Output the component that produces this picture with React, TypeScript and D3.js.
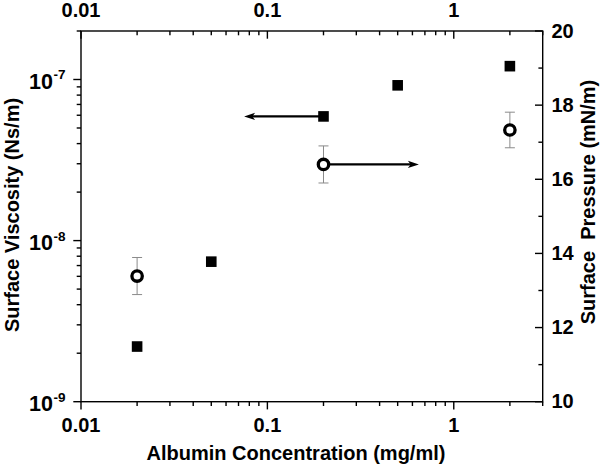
import React from "react";
import * as d3 from "d3";

// ---- data ----
const concSquares = [0.02, 0.05, 0.2, 0.5, 2];
const viscosity = [2.2e-9, 7.4e-9, 5.9e-8, 9.2e-8, 1.21e-7];
const concCircles = [0.02, 0.2, 2];
const pressure = [13.39, 16.4, 17.33];
const pressureErr = [0.5, 0.5, 0.48];
const xTickValues = [0.01, 0.1, 1];
const xTickLabels = ["0.01", "0.1", "1"];
const leftExponents = [-9, -8, -7];
const rightTickValues = [10, 12, 14, 16, 18, 20];
const arrowStartX = [0.2, 0.2];
const arrowEndX = [0.075, 0.65];
const arrowSide = ["left", "right"];

const W = 602;
const H = 467;
const M = { left: 81, right: 542.7, top: 31, bottom: 401.7 };
const FONT = "'Liberation Sans', Arial, Helvetica, sans-serif";

export default function App() {
  const x = d3.scaleLog().domain([0.01, 3]).range([M.left, M.right]);
  const yL = d3.scaleLog().domain([1e-9, 2e-7]).range([M.bottom, M.top]);
  const yR = d3.scaleLinear().domain([10, 20]).range([M.bottom, M.top]);

  const xMinor: number[] = [];
  [0.01, 0.1, 1].forEach((d) => {
    for (let k = 2; k <= 9; k++) {
      const v = d * k;
      if (v <= 3 + 1e-9) xMinor.push(v);
    }
  });
  const yMinor: number[] = [];
  [1e-9, 1e-8, 1e-7].forEach((d) => {
    for (let k = 2; k <= 9; k++) {
      const v = d * k;
      if (v <= 2e-7 + 1e-15) yMinor.push(v);
    }
  });
  const rMinor = [11, 13, 15, 17, 19];

  const arrowY = (i: number) =>
    arrowSide[i] === "left" ? yL(viscosity[concSquares.indexOf(arrowStartX[i])]) : yR(pressure[concCircles.indexOf(arrowStartX[i])]);

  const sw = 1.4;
  const majL = 7.7;
  const minL = 4.3;
  const sq = 10.6;

  return (
    <svg width={W} height={H} style={{ position: "absolute", left: 0, top: 0, background: "#fff" }} fontFamily={FONT}>
      <rect x={0} y={0} width={W} height={H} fill="#fff" />
      {/* frame */}
      <rect x={M.left} y={M.top} width={M.right - M.left} height={M.bottom - M.top} fill="none" stroke="#000" strokeWidth={sw} />

      {/* bottom / top x ticks */}
      {xTickValues.map((v) => (
        <g key={"xm" + v}>
          <line x1={x(v)} x2={x(v)} y1={M.bottom} y2={M.bottom + majL} stroke="#000" strokeWidth={sw} />
          <line x1={x(v)} x2={x(v)} y1={M.top} y2={M.top + majL} stroke="#000" strokeWidth={sw} />
        </g>
      ))}
      {xMinor.map((v) => (
        <g key={"xn" + v}>
          <line x1={x(v)} x2={x(v)} y1={M.bottom} y2={M.bottom + minL} stroke="#000" strokeWidth={sw} />
          <line x1={x(v)} x2={x(v)} y1={M.top} y2={M.top + minL} stroke="#000" strokeWidth={sw} />
        </g>
      ))}
      {xTickValues.map((v, i) => (
        <g key={"xl" + v} fontSize={20} fontWeight="bold" textAnchor="middle">
          <text x={x(v)} y={432}>{xTickLabels[i]}</text>
          <text x={x(v)} y={17}>{xTickLabels[i]}</text>
        </g>
      ))}

      {/* left y ticks */}
      {leftExponents.map((e) => {
        const yy = yL(Math.pow(10, e));
        return (
          <g key={"yl" + e}>
            <line x1={M.left - majL} x2={M.left} y1={yy} y2={yy} stroke="#000" strokeWidth={sw} />
            <text x={53} y={yy + 9.5} fontSize={21.5} fontWeight="bold" textAnchor="end">10</text>
            <text x={53.5} y={yy} fontSize={13.5} fontWeight="bold" textAnchor="start">{String(e)}</text>
          </g>
        );
      })}
      {yMinor.map((v) => (
        <line key={"ylm" + v} x1={M.left - minL} x2={M.left} y1={yL(v)} y2={yL(v)} stroke="#000" strokeWidth={sw} />
      ))}

      {/* right y ticks */}
      {rightTickValues.map((v) => (
        <g key={"yr" + v}>
          <line x1={M.right - majL} x2={M.right} y1={yR(v)} y2={yR(v)} stroke="#000" strokeWidth={sw} />
          <text x={551.5} y={yR(v) + 6.5} fontSize={20} fontWeight="bold">{v}</text>
        </g>
      ))}
      {rMinor.map((v) => (
        <line key={"yrm" + v} x1={M.right - minL} x2={M.right} y1={yR(v)} y2={yR(v)} stroke="#000" strokeWidth={sw} />
      ))}

      {/* axis titles */}
      <text x={296} y={460} fontSize={20} fontWeight="bold" textAnchor="middle">Albumin Concentration (mg/ml)</text>
      <text transform={`translate(19,215) rotate(-90)`} fontSize={20} fontWeight="bold" textAnchor="middle">Surface Viscosity (Ns/m)</text>
      <text transform={`translate(595,202) rotate(-90)`} fontSize={20} fontWeight="bold" textAnchor="middle" style={{ whiteSpace: "pre" }}>{"Surface  Pressure (mN/m)"}</text>

      {/* error bars */}
      {concCircles.map((c, i) => {
        const cx = x(c);
        const y1 = yR(pressure[i] + pressureErr[i]);
        const y2 = yR(pressure[i] - pressureErr[i]);
        return (
          <g key={"eb" + i} stroke="#8a8a8a" strokeWidth={1}>
            <line x1={cx} x2={cx} y1={y1} y2={y2} />
            <line x1={cx - 5} x2={cx + 5} y1={y1} y2={y1} />
            <line x1={cx - 5} x2={cx + 5} y1={y2} y2={y2} />
          </g>
        );
      })}

      {/* arrows */}
      {arrowStartX.map((s, i) => {
        const x0 = x(s);
        const x1 = x(arrowEndX[i]);
        const yy = arrowY(i);
        const dir = x1 > x0 ? 1 : -1;
        const head = 11;
        const hw = 3.6;
        return (
          <g key={"ar" + i}>
            <line x1={x0} x2={x1 - dir * head * 0.7} y1={yy} y2={yy} stroke="#000" strokeWidth={2.2} />
            <path d={`M${x1},${yy} L${x1 - dir * head},${yy - hw} L${x1 - dir * head * 0.75},${yy} L${x1 - dir * head},${yy + hw} Z`} fill="#000" />
          </g>
        );
      })}

      {/* squares */}
      {concSquares.map((c, i) => (
        <rect key={"sq" + i} x={x(c) - sq / 2} y={yL(viscosity[i]) - sq / 2} width={sq} height={sq} fill="#000" />
      ))}
      {/* circles */}
      {concCircles.map((c, i) => (
        <circle key={"ci" + i} cx={x(c)} cy={yR(pressure[i])} r={5.2} fill="#fff" stroke="#000" strokeWidth={3.3} />
      ))}
    </svg>
  );
}
